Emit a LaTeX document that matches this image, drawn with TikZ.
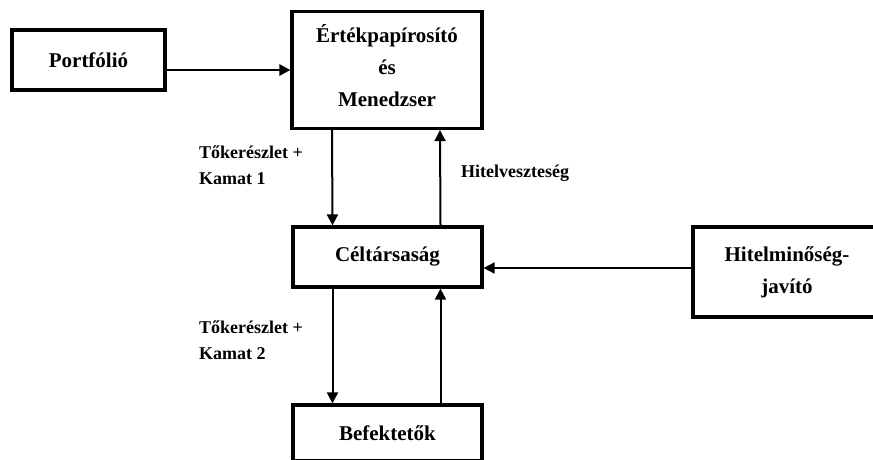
\documentclass[tikz,border=0pt]{standalone}
\usepackage{fontspec}
\setmainfont{Liberation Serif}
\usetikzlibrary{arrows.meta}

\tikzset{
	blokk/.style={draw, line width=3.2pt, rectangle, inner sep=0pt, align=center,
		font=\fontsize{21}{32}\selectfont\bfseries},
	felirat/.style={inner sep=0pt, align=left, font=\fontsize{18}{26}\selectfont\bfseries},
	nyil/.style={line width=2pt, -{Triangle[length=11pt,width=11pt]}}
}

\begin{document}
\begin{tikzpicture}[x=1pt,y=-1pt]
		\useasboundingbox (0,0) rectangle (873,459);
		% dobozok
		\node [blokk, minimum width=153pt, minimum height=60pt] (portf) at (88.5,60) {Portfólió};
		\node [blokk, minimum width=190pt, minimum height=117pt] (ertek) at (387,70) {};
		\node [blokk, draw=none] (ertektxt) at (387,66) {Értékpapírosító\\és\\Menedzser};
		\node [blokk, minimum width=189pt, minimum height=60pt] (celt) at (387.5,257) {Céltársaság};
		\node [blokk, minimum width=240pt, minimum height=90pt] (hitel) at (813,272) {};
		\node [blokk, draw=none] (hiteltxt) at (787,272) {Hitelminőség-\\javító};
		\node [blokk, minimum width=189pt, minimum height=56pt] (befek) at (387.5,433) {Befektetők};
		% nyilak
		\draw [nyil][line width=2.8pt] (portf.east |- ertek.west) -- (ertek.west);
		\draw [nyil] ([xshift=-55pt]ertek.south) -- ([xshift=-55pt]celt.north);
		\draw [nyil] ([xshift=53pt]celt.north) -- ([xshift=53pt]ertek.south);
		\draw [nyil] ([xshift=-55pt]celt.south) -- ([xshift=-55pt]befek.north);
		\draw [nyil] ([xshift=53pt]befek.north) -- ([xshift=53pt]celt.south);
		\coordinate (hin) at ([yshift=4pt]hitel.west);
		\draw [nyil] (hin) -- (hin -| celt.east);
		% feliratok
		\node [felirat, anchor=north west] (tk1) at (199,146) {Tőkerészlet +\\Kamat 1};
		\node [felirat, anchor=west] (hv) at (461,173) {Hitelveszteség};
		\node [felirat, anchor=north west] (tk2) at (199,321) {Tőkerészlet +\\Kamat 2};
	\end{tikzpicture}
\end{document}
